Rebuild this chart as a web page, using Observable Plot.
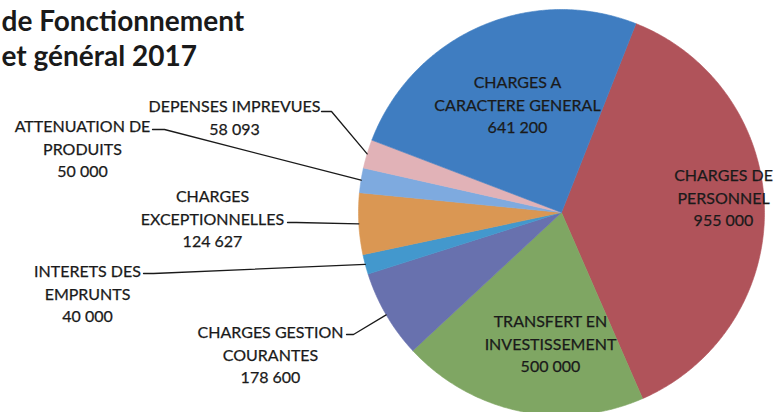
<!DOCTYPE html>
<html>
<head>
<meta charset="utf-8">
<script src="https://cdn.jsdelivr.net/npm/d3@7"></script>
<script src="https://cdn.jsdelivr.net/npm/@observablehq/plot@0.6"></script>
<style>
  html, body { margin: 0; padding: 0; background: #fff; }
  #chart svg { display: block; }
</style>
</head>
<body>
<div id="chart"></div>
<script>
// ---- data ----
const titleLines = ["de Fonctionnement", "et général 2017"];
const categories = [
  "CHARGES DE\nPERSONNEL",
  "TRANSFERT EN\nINVESTISSEMENT",
  "CHARGES GESTION\nCOURANTES",
  "INTERETS DES\nEMPRUNTS",
  "CHARGES\nEXCEPTIONNELLES",
  "ATTENUATION DE\nPRODUITS",
  "DEPENSES IMPREVUES",
  "CHARGES A\nCARACTERE GENERAL"
];
const amounts = [955000, 500000, 178600, 40000, 124627, 50000, 58093, 641200];
const colors = ["#b0535a", "#7fa663", "#6871ae", "#4398cd", "#da9753", "#7eaadf", "#e1b2b7", "#3f7dc1"];

// ---- layout (pixels) ----
const W = 775, H = 412;
const CX = 561, CY = 212, R = 203;
const START = 21.5 * Math.PI / 180;
// label block centres
const labelX = [723, 550, 270, 87, 212, 82, 234, 517];
const labelY = [196, 342, 353, 292, 217, 147, 116, 103];
// leader lines: text end and elbow (null for labels inside the slice)
const leaderStart = [null, null, [346, 334], [143, 273], [287, 222], [152, 129], [321, 111], null];
const leaderElbow = [null, null, [353, 334], [153, 273], [296, 222], [164, 129], [331, 111], null];

const fmt = d3.formatLocale({thousands: " ", grouping: [3], decimal: ",", currency: ["", ""]}).format(",d");

const arcs = d3.pie().sort(null).value(d => d)
  .startAngle(START).endAngle(START + 2 * Math.PI)(amounts);

const pt = (a, r) => ({x: CX + r * Math.sin(a), y: CY - r * Math.cos(a)});

const slices = arcs.map((a, i) => {
  const n = Math.max(2, Math.ceil((a.endAngle - a.startAngle) / (Math.PI / 360)));
  const pts = [{x: CX, y: CY}];
  for (let k = 0; k <= n; k++) pts.push(pt(a.startAngle + (a.endAngle - a.startAngle) * k / n, R));
  pts.push({x: CX, y: CY});
  return {pts, color: colors[i]};
});

const labels = categories.map((c, i) => ({
  text: c + "\n" + fmt(amounts[i]), x: labelX[i], y: labelY[i]
}));

const leaders = [];
arcs.forEach((a, i) => {
  if (!leaderStart[i]) return;
  const mid = (a.startAngle + a.endAngle) / 2;
  const e = pt(mid, R);
  leaders.push([
    {x: leaderStart[i][0], y: leaderStart[i][1]},
    {x: leaderElbow[i][0], y: leaderElbow[i][1]},
    e
  ]);
});

const chart = Plot.plot({
  width: W, height: H, margin: 0,
  x: {domain: [0, W], range: [0, W], axis: null},
  y: {domain: [0, H], range: [0, H], axis: null},
  style: {fontFamily: "Lato, 'Open Sans', sans-serif", background: "#fff"},
  marks: [
    ...slices.map(s => Plot.line(s.pts, {x: "x", y: "y", fill: s.color, stroke: s.color, strokeWidth: 0.6})),
    ...leaders.map(l => Plot.line(l, {x: "x", y: "y", stroke: "#1a1a1a", strokeWidth: 1.3})),
    Plot.text(labels, {x: "x", y: "y", text: "text", fontSize: 16, lineHeight: 1.4, lineAnchor: "middle", textAnchor: "middle", fill: "#1a1a1a", stroke: "#1a1a1a", strokeWidth: 0.25}),
    Plot.text([titleLines.join("\n")], {x: 1, y: 65, text: d => d, fontSize: 28, fontWeight: "bold", lineHeight: 1.25, lineAnchor: "bottom", textAnchor: "start", fill: "#1a1a1a"})
  ]
});
document.getElementById("chart").appendChild(chart);
</script>
</body>
</html>
